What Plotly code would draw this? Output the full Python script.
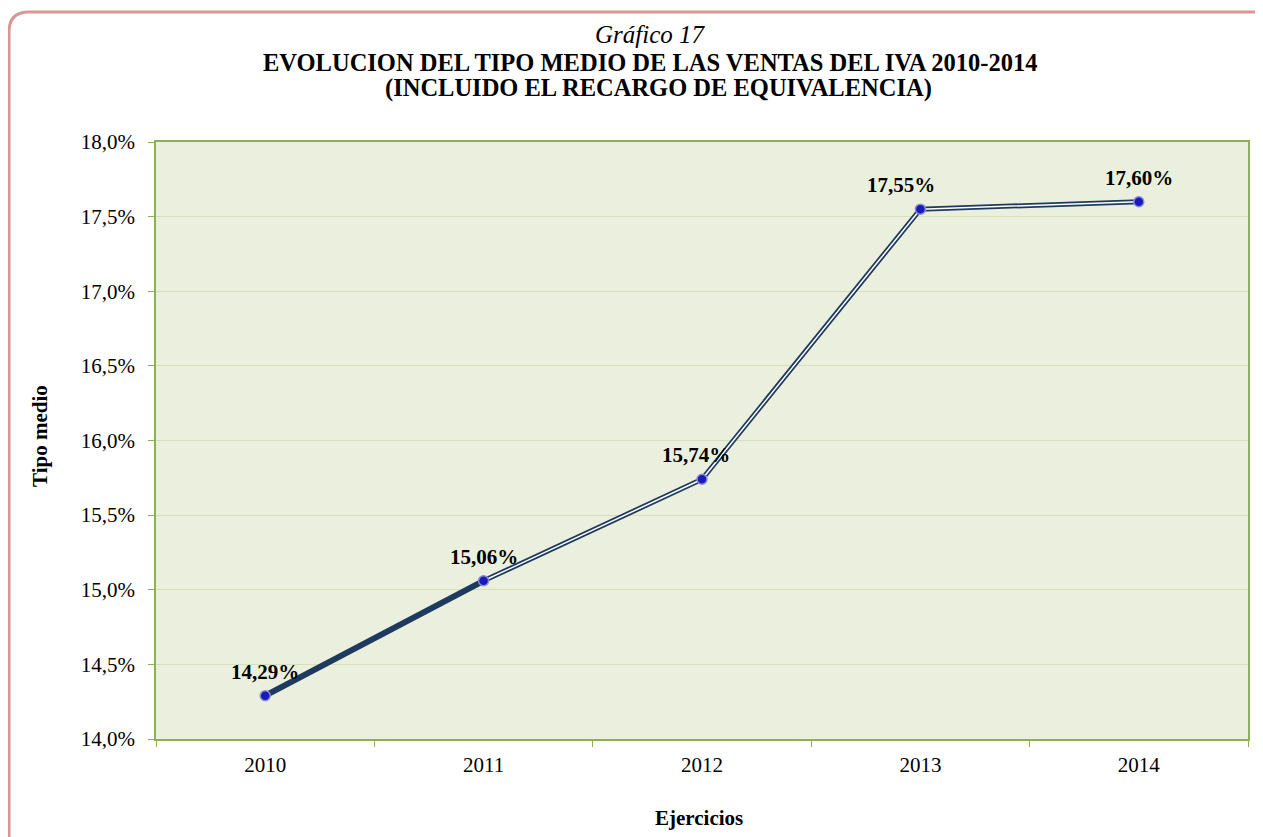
import plotly.graph_objects as go

years = ["2010", "2011", "2012", "2013", "2014"]
tipo_medio = [0.1429, 0.1506, 0.1574, 0.1755, 0.1760]
y_ticks = [0.14, 0.145, 0.15, 0.155, 0.16, 0.165, 0.17, 0.175, 0.18]
label_xshift = [0, 0, -6, -19, 0]  # label placement tweaks (style)

FONT = "Liberation Serif"
OFF = 8  # default page body margin
W, H = 1263 - OFF, 837 - OFF
L, R, T, B = 156 - OFF, 15, 142 - OFF, 98
pw, ph = W - L - R, H - T - B

def px_x(x):  # page pixel -> paper
    return (x - OFF - L) / pw

def px_y(y):
    return (H - B - (y - OFF)) / ph

fig = go.Figure()

fig.add_trace(go.Scatter(x=years[:2], y=tipo_medio[:2], mode="lines",
                         line=dict(color="#1F3A5F", width=6), hoverinfo="skip", showlegend=False))
fig.add_trace(go.Scatter(x=years[1:], y=tipo_medio[1:], mode="lines",
                         line=dict(color="#1F3A5F", width=5), hoverinfo="skip", showlegend=False))
fig.add_trace(go.Scatter(x=years[1:], y=tipo_medio[1:], mode="lines",
                         line=dict(color="#FFFFFF", width=1.5), hoverinfo="skip", showlegend=False))
fig.add_trace(go.Scatter(x=years, y=tipo_medio, mode="markers",
                         marker=dict(size=10, color="#1A1AB8", line=dict(color="#8C8CD8", width=1.5)),
                         showlegend=False))

for i, (v, dx) in enumerate(zip(tipo_medio, label_xshift)):
    fig.add_annotation(x=i, y=v, xref="x", yref="y", text=f"<b>{v*100:.2f}%</b>".replace(".", ","),
                       showarrow=False, yshift=24, xshift=dx, yanchor="middle",
                       font=dict(family=FONT, size=21, color="black"))

axis_line = "#8DB051"
grid = "#D3E2B6"

fig.update_xaxes(type="category", range=[-0.5, 4.5], tickson="boundaries",
                 showline=True, linecolor=axis_line, linewidth=1.5, mirror=True,
                 ticks="outside", ticklen=6, tickcolor=axis_line, ticklabelstandoff=6,
                 showgrid=False, tickfont=dict(family=FONT, size=21, color="black"))
fig.update_yaxes(range=[0.14, 0.18], tickvals=y_ticks,
                 ticktext=[f"{v*100:.1f}%".replace(".", ",") for v in y_ticks],
                 showline=True, linecolor=axis_line, linewidth=1.5, mirror=True,
                 ticks="outside", ticklen=6, tickcolor=axis_line, ticklabelstandoff=9,
                 showgrid=True, gridcolor=grid, gridwidth=1, zeroline=False,
                 tickfont=dict(family=FONT, size=21, color="black"))

# axis titles
fig.add_annotation(text="<b>Ejercicios</b>", x=px_x(699), y=px_y(818), xref="paper", yref="paper",
                   showarrow=False, font=dict(family=FONT, size=21, color="black"), yanchor="middle")
fig.add_annotation(text="<b>Tipo medio</b>", x=px_x(40), y=px_y(436), xref="paper", yref="paper",
                   showarrow=False, textangle=-90, font=dict(family=FONT, size=21, color="black"),
                   xanchor="center", yanchor="middle")

# rounded outer border
x0, yt = px_x(9), px_y(12)
x1, yb = px_x(1300), px_y(860)
rx, ry = 20 / pw, 20 / ph
path = f"M {x0},{yb} L {x0},{yt - ry} Q {x0},{yt} {x0 + rx},{yt} L {x1},{yt}"
fig.add_shape(type="path", path=path, xref="paper", yref="paper",
              line=dict(color="#D99694", width=3), layer="below")

fig.add_annotation(text="<i>Gráfico 17</i>", x=px_x(650), y=px_y(35), xref="paper", yref="paper",
                   showarrow=False, font=dict(family=FONT, size=25, color="black"), yanchor="middle")
fig.add_annotation(text="<b>EVOLUCION DEL TIPO MEDIO DE LAS VENTAS DEL IVA 2010-2014</b>",
                   x=px_x(650), y=px_y(62), xref="paper", yref="paper",
                   showarrow=False, font=dict(family=FONT, size=24.5, color="black"), yanchor="middle")
fig.add_annotation(text="<b>(INCLUIDO EL RECARGO DE EQUIVALENCIA)</b>",
                   x=px_x(658), y=px_y(88), xref="paper", yref="paper",
                   showarrow=False, font=dict(family=FONT, size=24.5, color="black"), yanchor="middle")

fig.update_layout(width=W, height=H, margin=dict(l=L, r=R, t=T, b=B, autoexpand=False),
                  plot_bgcolor="#EBF0DE", paper_bgcolor="white", showlegend=False)

fig.write_html("out.html")
